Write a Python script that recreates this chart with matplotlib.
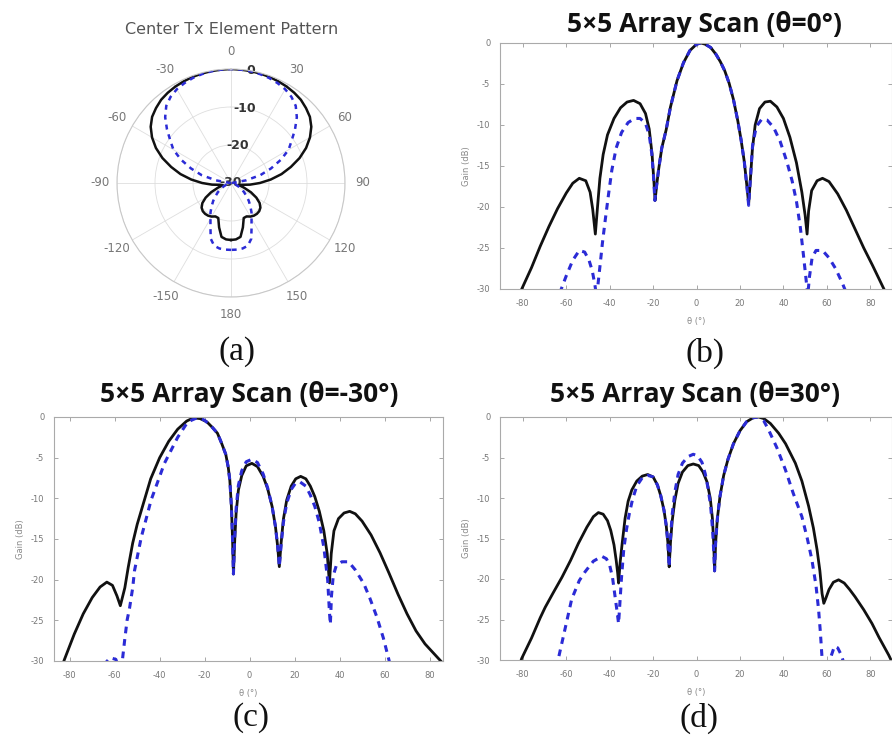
import numpy as np
import matplotlib.pyplot as plt

plt.rcParams['axes.unicode_minus'] = False

# ---- (a) centre element pattern, 0..180 deg (pattern is symmetric) ----
elem_theta = [0, 5, 10, 15, 20, 25, 30, 35, 40, 45, 50, 55, 60, 65, 70, 75, 80, 85,
              90, 95, 100, 105, 110, 115, 120, 125, 130, 135, 140, 145, 150, 155,
              160, 165, 170, 175, 180]
elem_meas = [0, -0.05, -0.1, -0.2, -0.3, -0.5, -0.7, -1.0, -1.4, -2.1, -2.9, -4.2,
             -6.0, -8.2, -10.8, -13.7, -16.5, -19.5, -22.4, -25.0, -27.2, -27.8,
             -26.3, -24.2, -22.3, -20.8, -19.9, -19.5, -19.4, -19.5, -19.8, -20.3,
             -20.2, -17.9, -15.6, -15.1, -15.0]
elem_sim = [0, -0.05, -0.15, -0.35, -0.6, -1.0, -1.5, -2.3, -3.5, -5.5, -8.0, -10.5,
            -12.5, -15.5, -18.8, -22.0, -26.0, -29.5, -30, -30, -29.5, -29.2, -28.6,
            -27.8, -26.8, -25.8, -24.7, -23.4, -22.1, -20.6, -19.2, -17.2, -14.4,
            -12.9, -12.5, -12.4, -12.4]

# ---- (b) scan theta = 0 ----
b_ang = [-81, -76, -72, -68, -64, -60, -57, -54, -51, -49, -47.8, -46.6, -45.6, -44.5,
         -43, -41, -38, -35, -32, -29, -26, -23.5, -21.8, -20.5, -19.6, -19.1, -18.3,
         -17.5, -16, -14, -12, -9, -6, -3, 0, 2, 4, 6.5, 9, 11, 13, 15, 17, 19, 20.5,
         22, 23.2, 24, 24.7, 25.7, 27, 29, 31.5, 34, 37, 40, 43, 46, 48.5, 50, 50.9,
         51.6, 53, 55.5, 58, 61, 65, 69, 73, 77, 81, 85, 89]
b_meas = [-30.3, -27.4, -24.8, -22.4, -20.2, -18.3, -17.1, -16.5, -16.8, -18.2, -20.3,
          -23.3, -20, -16.5, -13.6, -11.2, -9.2, -7.9, -7.2, -7.0, -7.4, -8.6, -10.5,
          -13.5, -17, -19.2, -17.2, -15.5, -12.8, -10.6, -7.8, -4.6, -2.4, -0.9, -0.15,
          0, -0.15, -0.55, -1.4, -2.3, -3.4, -4.9, -6.9, -9.5, -11.8, -14.5, -17.5,
          -19.6, -17, -13, -10, -8, -7.2, -7.1, -7.8, -9.2, -11.5, -14.6, -18.2, -21,
          -23.3, -20.5, -18, -16.8, -16.5, -16.9, -18.4, -20.4, -22.7, -25, -27.1,
          -29.3, -31.5]
b_ang_sim = [-63, -60, -57, -54, -51.5, -49.5, -48, -46.8, -46, -45.2, -44.3, -43.3,
             -42, -40.5, -39, -37, -34.5, -31.5, -28.5, -26, -23.5, -21.8, -20.6, -19.8,
             -19.2, -18.3, -17.5, -16, -14, -12, -9, -6, -3, 0, 2, 4, 6.5, 9, 11, 13,
             15, 17, 19, 20.5, 22, 23.2, 24, 24.8, 25.8, 27.5, 30, 32.5, 35.5, 38.5,
             41.5, 44, 46, 47.8, 49.2, 50.3, 51.2, 52, 53.2, 55, 58, 61, 64, 67, 69]
b_sim = [-30.5, -28.4, -26.5, -25.3, -25.5, -26.5, -27.8, -29.5, -31, -29, -26.8,
         -24.3, -21.5, -18.4, -15.5, -12.8, -10.9, -9.7, -9.2, -9.2, -9.8, -11.2,
         -13.5, -16.3, -19.2, -17.2, -15.5, -12.8, -10.6, -7.8, -4.6, -2.4, -0.9,
         -0.15, 0, -0.15, -0.55, -1.4, -2.3, -3.4, -4.9, -6.9, -9.5, -11.8, -14.5,
         -17.5, -19.8, -16.5, -12.5, -10.2, -9.3, -9.4, -10.3, -12, -14.4, -16.8,
         -19.3, -22.5, -25.8, -28.5, -30.8, -28.5, -26.2, -25.3, -25.3, -26.2, -27.5,
         -29.2, -30.5]

# ---- (c) scan theta = -30 ----
c_ang = [-86, -82.2, -78, -74, -70, -66.5, -63.5, -61, -59, -57.5, -55.5, -54, -52,
         -50, -47, -44, -40, -36, -32, -28, -25, -22, -19, -16.5, -14.3, -12.5, -10.6,
         -9.5, -8.8, -8.1, -7.6, -7.2, -6.6, -6, -5, -3.5, -1.5, 1, 3.5, 6, 8, 10,
         11.5, 12.5, 13.2, 14, 15, 16.5, 18.5, 20.5, 22.7, 25, 27, 29, 31, 33, 34.5,
         35.5, 36.3, 37.5, 39.5, 42, 44.5, 47, 50, 54, 58, 62, 66, 70, 74, 78, 82, 86]
c_meas = [-32.5, -29.7, -26.7, -24.2, -22.2, -20.9, -20.3, -20.7, -22, -23.2, -21,
          -18.5, -15.5, -13.2, -10.4, -7.6, -5.0, -3.0, -1.5, -0.5, -0.1, -0.2, -0.6,
          -1.3, -2.0, -3.2, -4.6, -6.2, -7.8, -11, -15, -19.3, -15, -11.8, -9, -7.2,
          -6.0, -5.7, -6.1, -7.3, -8.8, -11, -13.5, -16, -18.4, -15.5, -12.6, -10.2,
          -8.5, -7.6, -7.3, -7.6, -8.5, -9.8, -11.6, -14, -16.8, -20.4, -16.8, -14,
          -12.5, -11.8, -11.6, -11.9, -12.8, -14.5, -16.7, -19.2, -21.8, -24.2, -26.3,
          -27.9, -29.1, -30.3]
c_ang_sim = [-65, -62, -59.5, -58, -56.5, -55.6, -54.5, -53.4, -52, -51.2, -48.2,
             -43.8, -37.9, -32, -27.5, -23, -20, -16.5, -14.3, -12.5, -10.6, -9.5,
             -8.8, -8.1, -7.6, -7.2, -6.6, -6, -5, -3.5, -1.5, 1, 3.5, 6, 8, 10, 11.5,
             12.5, 13.2, 14, 15, 16.5, 18.5, 20.5, 22.5, 25, 27, 29, 31, 33, 34.7,
             35.5, 35.9, 36.4, 37.2, 38.5, 41, 44, 47, 50.8, 53.5, 56.6, 59.5, 61.8, 63]
c_sim = [-30.5, -29.6, -29.8, -31, -29.7, -27.5, -25, -23.5, -21, -18.9, -14.8, -10.2,
         -5.7, -2.5, -0.6, -0.05, -0.4, -1.3, -2.0, -3.2, -4.6, -6.2, -7.8, -11, -15,
         -19.3, -14.5, -11.2, -8.4, -6.6, -5.5, -5.2, -5.6, -7, -8.7, -11, -13.5, -16,
         -18.4, -15.8, -13, -10.6, -8.9, -8.1, -8.0, -8.5, -9.6, -11, -13, -16, -20,
         -24, -25.5, -22, -19.5, -18.3, -17.8, -17.8, -18.8, -20.5, -22.3, -24.6,
         -27.2, -29.7, -31]

# ---- (d) scan theta = 30 ----
d_ang = [-82, -80.5, -76, -72, -69.7, -66, -62, -58, -54.4, -50.5, -47.5, -45.2, -43,
         -41, -39.5, -38, -37, -36.3, -35.9, -35.2, -34.2, -32.9, -31.5, -29.8, -27.5,
         -25, -22.5, -20, -18, -16.5, -15, -14, -13.2, -12.6, -12, -11.2, -10, -8.5,
         -6.5, -4, -1.5, 1, 3, 4.8, 6.3, 7.3, 7.9, 8.3, 8.8, 9.6, 10.8, 12.5, 14.5,
         17, 20, 23, 26, 28.5, 31, 34, 37.8, 41, 45.5, 48.5, 51.6, 53.8, 55.5, 56.8,
         57.8, 58.6, 59.5, 61, 63, 65.4, 68, 70.5, 73, 77, 80.8, 84, 88.5, 91]
d_meas = [-31, -29.8, -27.3, -24.8, -23.5, -21.7, -19.8, -17.7, -15.6, -13.6, -12.3,
          -11.8, -12, -12.8, -14, -15.8, -17.7, -19.3, -20.5, -18, -15.5, -12.5, -10.4,
          -9, -7.9, -7.3, -7.1, -7.4, -8.4, -9.7, -11.5, -13.3, -15.5, -18.5, -15.5,
          -12.8, -10.3, -8.2, -6.8, -6.0, -5.8, -6.0, -6.8, -8.0, -10, -12.5, -15.5,
          -19, -15.5, -12.5, -9.8, -7.2, -5.2, -3.3, -1.7, -0.6, -0.1, 0, -0.2, -0.8,
          -2, -3.3, -5.7, -7.9, -11, -13.7, -16.4, -19, -21.8, -23, -22.4, -21.3,
          -20.4, -20.1, -20.5, -21.3, -22.2, -23.8, -25.5, -27.2, -29.4, -30.8]
d_ang_sim = [-65, -63.6, -61, -57.5, -54, -51.3, -47.5, -43.6, -41.5, -40, -38.7,
             -37.7, -36.7, -35.9, -35.3, -34.6, -33.5, -32.2, -31, -29.5, -27.5, -25,
             -22.5, -20, -18, -16.5, -15, -14, -13.2, -12.6, -12, -11.2, -10, -8.5,
             -6.5, -4, -1.5, 0.5, 2.5, 4, 5.3, 6.5, 7.4, 8, 8.3, 8.8, 9.6, 10.8, 12.5,
             14.5, 17, 20, 23, 26, 28.5, 31, 33.2, 37, 40.9, 44.5, 48.5, 51, 53.1, 55,
             56.2, 57, 57.8, 58.3, 61, 62, 63.5, 65, 66.5, 68]
d_sim = [-31, -29.8, -26.7, -22.5, -20.2, -19.1, -17.8, -17.2, -17.5, -18.3, -19.8,
         -21.8, -23.8, -25.5, -23, -20, -16.3, -13.8, -12, -10.2, -8.5, -7.5, -7.2,
         -7.4, -8.4, -9.7, -11.5, -13.3, -15.5, -18.5, -15, -12, -9.3, -7.1, -5.7,
         -4.9, -4.6, -4.8, -5.6, -7, -8.8, -11, -14, -17, -19, -15.5, -12.5, -9.8,
         -7.2, -5.2, -3.3, -1.7, -0.6, -0.1, 0, -0.5, -1.6, -3.8, -6.5, -9.4, -12.3,
         -15, -17.6, -20.8, -23.8, -26.5, -29.8, -31, -31, -29.5, -28.3, -28.5, -29.3,
         -30.5]

ticks_x = [-80, -60, -40, -20, 0, 20, 40, 60, 80]
ticks_y = [-30, -25, -20, -15, -10, -5, 0]

W, H = 892, 750
fig = plt.figure(figsize=(W / 100, H / 100), dpi=100)

BLACK = '#111111'
BLUE = '#2b2bd6'
GRAY = '#777777'


def px_rect(x0, y0, x1, y1):
    return [x0 / W, 1 - y1 / H, (x1 - x0) / W, (y1 - y0) / H]


def ftext(x, y, s, **kw):
    fig.text(x / W, 1 - y / H, s, ha='center', va='center', **kw)


# (a) polar element pattern
theta_full = np.deg2rad(np.concatenate([-np.array(elem_theta[::-1]), elem_theta[1:]]))
meas_full = np.concatenate([elem_meas[::-1], elem_meas[1:]])
sim_full = np.concatenate([elem_sim[::-1], elem_sim[1:]])

axp = fig.add_axes(px_rect(117, 69, 345, 297), projection='polar')
axp.set_theta_zero_location('N')
axp.set_theta_direction(-1)
axp.plot(theta_full, meas_full, color=BLACK, lw=1.8)
axp.plot(theta_full, sim_full, color=BLUE, lw=1.8, dashes=(2.0, 2.0))
axp.set_ylim(-30, 0)
axp.set_rticks([-30, -20, -10, 0])
axp.set_yticklabels(['-30', '-20', '-10', '0'], fontsize=9, fontweight='bold',
                    color='#333333')
axp.set_rlabel_position(10)
for lbl in axp.get_yticklabels():
    lbl.set_ha('center')
    lbl.set_va('center')
angs = np.arange(0, 360, 30)
axp.set_thetagrids(angs, [str(a if a <= 180 else a - 360) for a in angs],
                   fontsize=8.5, color=GRAY)
axp.tick_params(axis='x', pad=2)
axp.grid(color='#dedede', lw=0.6)
axp.spines['polar'].set_color('#c8c8c8')
axp.spines['polar'].set_linewidth(0.8)
ftext(232, 30, 'Center Tx Element Pattern', fontsize=11.5, color='#555555')


def scan_panel(rect, xlim, ang_m, gain_m, ang_s, gain_s):
    ax = fig.add_axes(rect)
    ax.plot(ang_m, gain_m, color=BLACK, lw=2)
    ax.plot(ang_s, gain_s, color=BLUE, lw=2.2, dashes=(2.2, 1.9))
    ax.set_xlim(*xlim)
    ax.set_ylim(-30, 0)
    ax.set_xticks(ticks_x)
    ax.set_yticks(ticks_y)
    ax.tick_params(direction='in', length=3, width=0.6, colors='#999999',
                   labelcolor=GRAY, labelsize=6, top=True, right=True, pad=7)
    for sp in ax.spines.values():
        sp.set_color('#aaaaaa')
        sp.set_linewidth(0.8)
    ax.set_ylabel('Gain (dB)', fontsize=6, color='#888888', labelpad=4)
    ax.set_xlabel('θ (°)', fontsize=6, color='#888888', labelpad=7)
    return ax


scan_panel(px_rect(500, 43, 892, 289), (-90.5, 90), b_ang, b_meas, b_ang_sim, b_sim)
scan_panel(px_rect(54, 417, 443, 661), (-87, 86), c_ang, c_meas, c_ang_sim, c_sim)
scan_panel(px_rect(500, 417, 892, 660), (-90.5, 90), d_ang, d_meas, d_ang_sim, d_sim)

title_kw = dict(fontsize=19, fontweight='bold', family=['Open Sans', 'DejaVu Sans'],
                color='#111111')
ftext(704, 24, '5×5 Array Scan (θ=0°)', **title_kw)
ftext(249, 394, '5×5 Array Scan (θ=-30°)', **title_kw)
ftext(695, 394, '5×5 Array Scan (θ=30°)', **title_kw)

lab_kw = dict(fontsize=24, family=['Liberation Serif', 'DejaVu Serif'], color='#111111')
ftext(237, 352, '(a)', **lab_kw)
ftext(705, 353, '(b)', **lab_kw)
ftext(251, 718, '(c)', **lab_kw)
ftext(699, 718, '(d)', **lab_kw)

fig.savefig('out.png', dpi=100)
